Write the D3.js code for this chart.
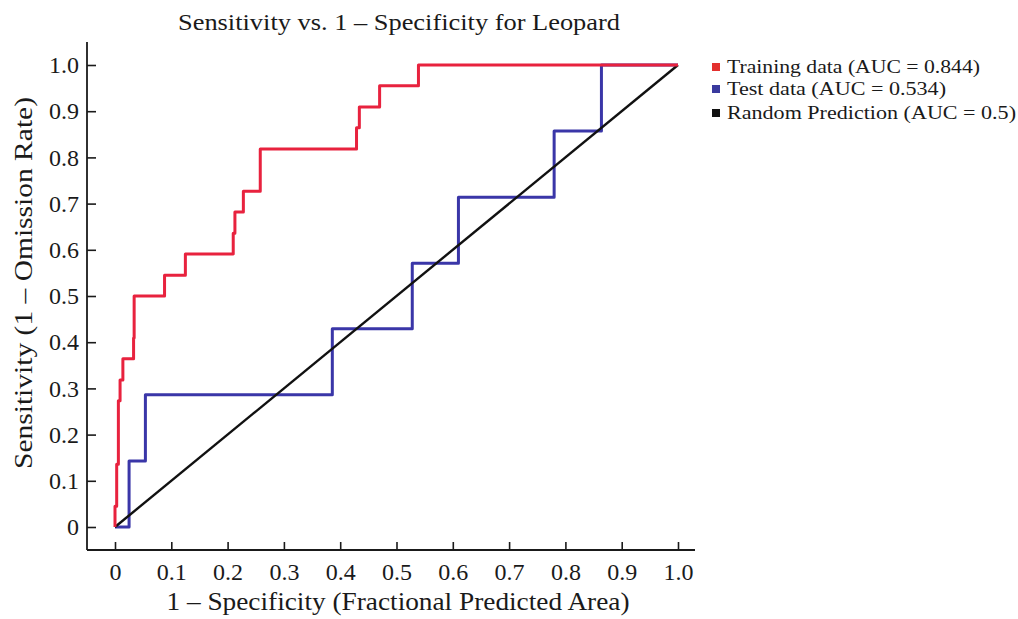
<!DOCTYPE html>
<html>
<head>
  <meta charset="utf-8">
  <script src="https://d3js.org/d3.v7.min.js"></script>
  <style>
    body { margin: 0; background: #fff; }
    text { font-family: "Liberation Serif", "Times New Roman", serif; fill: #1a1a1a; }
  </style>
</head>
<body>
<script type="text/javascript">

    /* ROC step corners (fpr, tpr pairs) */
    var train_fpr = [0, 0, 0.003, 0.003, 0.006, 0.006, 0.009, 0.009, 0.014, 0.014, 0.033, 0.033,
                     0.034, 0.034, 0.088, 0.088, 0.125, 0.125, 0.210, 0.210, 0.213, 0.213, 0.228, 0.228,
                     0.258, 0.258, 0.429, 0.429, 0.434, 0.434, 0.470, 0.470, 0.539, 0.539, 1.0];
    var train_tpr = [0, 0.045, 0.045, 0.136, 0.136, 0.273, 0.273, 0.318, 0.318, 0.364, 0.364, 0.409,
                     0.409, 0.5, 0.5, 0.545, 0.545, 0.591, 0.591, 0.636, 0.636, 0.682, 0.682, 0.727,
                     0.727, 0.818, 0.818, 0.864, 0.864, 0.909, 0.909, 0.955, 0.955, 1.0, 1.0];

    var test_fpr = [0, 0.025, 0.025, 0.054, 0.054, 0.386, 0.386, 0.528, 0.528, 0.610, 0.610, 0.780, 0.780, 0.864, 0.864, 1.0];
    var test_tpr = [0, 0, 0.143, 0.143, 0.286, 0.286, 0.429, 0.429, 0.571, 0.571, 0.714, 0.714, 0.857, 0.857, 1.0, 1.0];

    var random_fpr = [0, 1];
    var random_tpr = [0, 1];

    var ticks = [0, 0.1, 0.2, 0.3, 0.4, 0.5, 0.6, 0.7, 0.8, 0.9, 1.0];

    var legend_labels = ["Training data (AUC = 0.844)", "Test data (AUC = 0.534)", "Random Prediction (AUC = 0.5)"];
    var legend_colors = ["#e3302e", "#3a3a9e", "#111111"];

/*************************************************************************************************/

    var w = 1018, h = 619;

    var svg = d3.select("body").append("svg")
                .attr("width", w)
                .attr("height", h);

    var x = d3.scaleLinear().domain([0, 1]).range([115, 678]);
    var y = d3.scaleLinear().domain([0, 1]).range([527, 65]);

    var axis_x = 87, axis_y = 550;

    function tick_fmt(d) { return d === 0 ? "0" : d3.format(".1f")(d); }

    // y axis
    var gy = svg.append("g")
                .attr("transform", "translate(" + axis_x + ",0)")
                .call(d3.axisLeft(y).tickValues(ticks).tickFormat(tick_fmt).tickSize(-9).tickPadding(8));
    gy.select(".domain").remove();
    gy.selectAll("line").attr("stroke", "#1a1a1a").attr("stroke-width", 1.6);
    gy.selectAll("text").attr("font-size", 24).attr("font-family", "Liberation Serif");

    // x axis
    var gx = svg.append("g")
                .attr("transform", "translate(0," + axis_y + ")")
                .call(d3.axisBottom(x).tickValues(ticks).tickFormat(tick_fmt).tickSize(-8).tickPadding(13));
    gx.select(".domain").remove();
    gx.selectAll("line").attr("stroke", "#1a1a1a").attr("stroke-width", 1.6);
    gx.selectAll("text").attr("font-size", 24).attr("font-family", "Liberation Serif");

    svg.append("line").attr("x1", axis_x).attr("x2", axis_x).attr("y1", 42).attr("y2", axis_y)
       .attr("stroke", "#1a1a1a").attr("stroke-width", 1.8);
    svg.append("line").attr("x1", axis_x).attr("x2", 695).attr("y1", axis_y).attr("y2", axis_y)
       .attr("stroke", "#1a1a1a").attr("stroke-width", 1.8);

/*************************************************************************************************/
/* Curves */

    var line = d3.line()
                 .x(function(d) { return x(d[0]); })
                 .y(function(d) { return y(d[1]); });

    function pts(xs, ys) { return xs.map(function(v, i) { return [v, ys[i]]; }); }

    svg.append("path").datum(pts(test_fpr, test_tpr))
       .attr("d", line).attr("fill", "none")
       .attr("stroke", "#3a36a8").attr("stroke-width", 3).attr("stroke-linejoin", "round");

    svg.append("path").datum(pts(random_fpr, random_tpr))
       .attr("d", line).attr("fill", "none")
       .attr("stroke", "#111").attr("stroke-width", 2.4);

    svg.append("path").datum(pts(train_fpr, train_tpr))
       .attr("d", line).attr("fill", "none")
       .attr("stroke", "#e8223e").attr("stroke-width", 3).attr("stroke-linejoin", "round");

/*************************************************************************************************/
/* Titles */

    svg.append("text")
       .attr("x", 399).attr("y", 30)
       .attr("text-anchor", "middle")
       .attr("font-size", 24)
       .attr("textLength", 442).attr("lengthAdjust", "spacingAndGlyphs")
       .text("Sensitivity vs. 1 \u2013 Specificity for Leopard");

    svg.append("text")
       .attr("x", 398).attr("y", 610)
       .attr("text-anchor", "middle")
       .attr("font-size", 25)
       .attr("textLength", 463).attr("lengthAdjust", "spacingAndGlyphs")
       .text("1 \u2013 Specificity (Fractional Predicted Area)");

    svg.append("text")
       .attr("transform", "translate(32,283) rotate(-90)")
       .attr("text-anchor", "middle")
       .attr("font-size", 25)
       .attr("textLength", 372).attr("lengthAdjust", "spacingAndGlyphs")
       .text("Sensitivity (1 \u2013 Omission Rate)");

/*************************************************************************************************/
/* Legend */

    var legend_y = [67, 89, 113];
    var legend_len = [253, 219, 289];

    var legend = svg.append("g").attr("class", "legend");

    legend.selectAll("rect")
          .data(legend_labels)
          .enter()
          .append("rect")
          .attr("x", 712)
          .attr("y", function(d, i) { return legend_y[i] - 4; })
          .attr("width", 8)
          .attr("height", 8)
          .style("fill", function(d, i) { return legend_colors[i]; });

    legend.selectAll("text")
          .data(legend_labels)
          .enter()
          .append("text")
          .attr("x", 727)
          .attr("y", function(d, i) { return legend_y[i] + 6; })
          .attr("font-size", 19)
          .attr("textLength", function(d, i) { return legend_len[i]; })
          .attr("lengthAdjust", "spacingAndGlyphs")
          .text(function(d) { return d; });

</script>
</body>
</html>
